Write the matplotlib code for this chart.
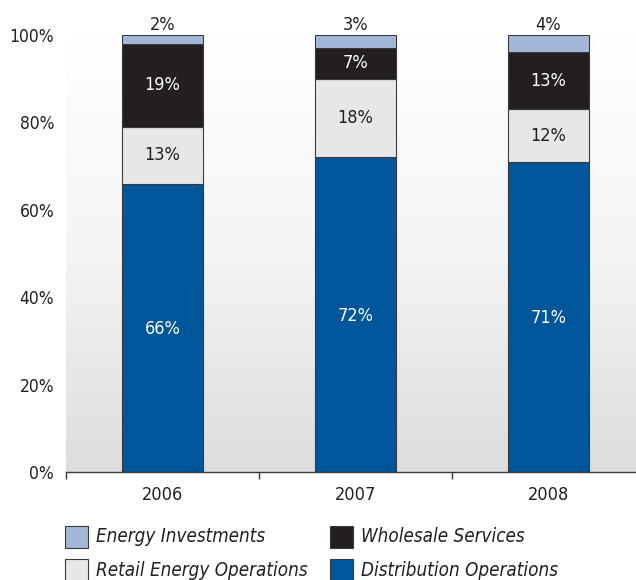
import matplotlib
matplotlib.use("Agg")
import matplotlib.pyplot as plt
import numpy as np
from matplotlib.patches import Rectangle
from matplotlib.colors import LinearSegmentedColormap

plt.rcParams['font.family'] = ['DejaVu Sans']
plt.rcParams['font.stretch'] = 'condensed'

years = ["2006", "2007", "2008"]
distribution = [66, 72, 71]
retail = [13, 18, 12]
wholesale = [19, 7, 13]
energy_inv = [2, 3, 4]
series_names = ["Distribution Operations", "Retail Energy Operations",
                "Wholesale Services", "Energy Investments"]
colors = ["#00569A", "#E6E7E8", "#231F20", "#A3B8D9"]
label_colors = ["white", "#231F20", "white", "#231F20"]
y_ticks = [0, 20, 40, 60, 80, 100]

W, H = 636, 580
fig = plt.figure(figsize=(W / 100, H / 100), dpi=100)
ax = fig.add_axes([66 / W, (H - 472) / H, (645 - 66) / W, 437 / H])

x = np.arange(len(years))

# gradient background
cmap = LinearSegmentedColormap.from_list("bg", ["#DCDDDE", "#F4F4F5", "#FFFFFF"])
grad = np.linspace(0, 1, 256).reshape(-1, 1)
ax.imshow(grad, extent=[-0.5, 2.5, 0, 100], origin="lower", aspect="auto",
          cmap=cmap, zorder=0)
ax.set_xlim(-0.5, 2.5)
ax.set_ylim(0, 100)

data = [distribution, retail, wholesale, energy_inv]
bottom = np.zeros(len(years))
bw = 0.42
fs = 13
for i, (vals, c, lc) in enumerate(zip(data, colors, label_colors)):
    vals = np.array(vals, dtype=float)
    ax.bar(x, vals, bw, bottom=bottom, color=c, edgecolor="#3A3A3A",
           linewidth=0.8, zorder=2)
    for xi, v, b in zip(x, vals, bottom):
        if i == 3:
            ax.text(xi, b + v + 0.3, f"{int(v)}%", ha="center", va="bottom",
                    color=lc, fontsize=fs, zorder=3)
        elif i == 0:
            ax.text(xi, b + v / 2 - 0.2, f"{int(v)}%", ha="center", va="center",
                    color=lc, fontsize=fs, zorder=3)
        else:
            ax.text(xi, b + v / 2, f"{int(v)}%", ha="center", va="center",
                    color=lc, fontsize=fs, zorder=3)
    bottom += vals

for s in ["top", "right", "left"]:
    ax.spines[s].set_visible(False)
ax.spines["bottom"].set_color("#3A3A3A")
ax.spines["bottom"].set_linewidth(1.0)
ax.spines["bottom"].set_zorder(4)

ax.set_yticks(y_ticks)
ax.set_yticklabels([f"{t}%" for t in y_ticks], fontsize=12.5, color="#231F20")
ax.tick_params(axis="y", length=0, pad=8.5)

ax.set_xticks([-0.5, 0.5, 1.5])
ax.set_xticklabels([])
ax.set_xticks(x, minor=True)
ax.set_xticklabels(years, minor=True, fontsize=fs, color="#231F20")
ax.tick_params(axis="x", which="major", length=5, width=1.0, color="#3A3A3A", direction="out")
ax.tick_params(axis="x", which="minor", length=0, pad=10)

# legend
legend_items = [(3, 65, 526), (2, 330, 526), (1, 65, 559), (0, 330, 559)]
for idx, lx, ly in legend_items:
    fig.add_artist(Rectangle((lx / W, 1 - (ly + 22) / H), 23 / W, 22 / H,
                             transform=fig.transFigure, facecolor=colors[idx],
                             edgecolor="#3A3A3A", linewidth=0.8))
    fig.text((lx + 31) / W, 1 - (ly + 11) / H, series_names[idx],
             ha="left", va="center", fontsize=13.5, style="italic", color="#231F20")

fig.savefig("out.png", dpi=100)
